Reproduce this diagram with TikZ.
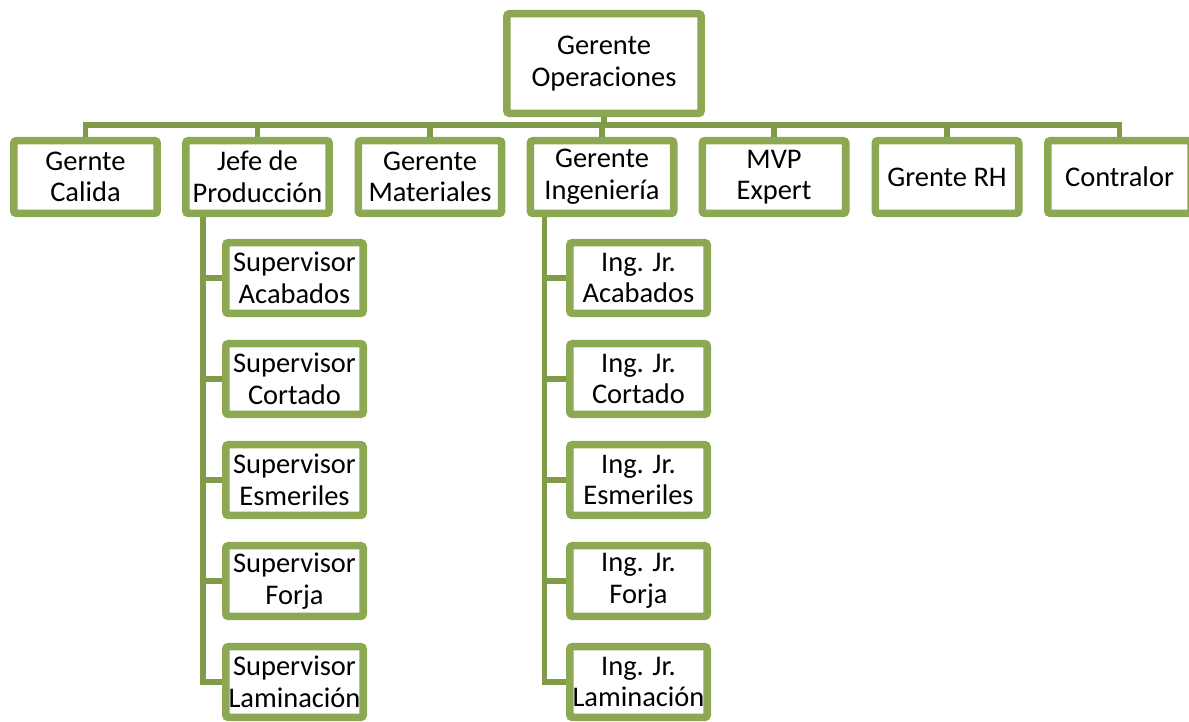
\documentclass[tikz,border=0pt]{standalone}
\usepackage{fontspec}
\setmainfont{Carlito}
\usetikzlibrary{calc,shadows,backgrounds}

\definecolor{olivebox}{RGB}{140,168,82}
\definecolor{olivelink}{RGB}{128,155,74}

\begin{document}
\begin{tikzpicture}[x=0.02cm,y=-0.02cm,
		orgbox/.style={draw=olivebox,line width=4.3pt,fill=white,rounded corners=1.5pt,
			align=center,inner sep=0pt,font=\fontsize{16.2}{18}\selectfont,
			drop shadow={shadow xshift=0.6pt,shadow yshift=-2pt,opacity=0.25,fill=black!60}},
		topbox/.style={orgbox,minimum width=195*0.5669pt,minimum height=100*0.5669pt},
		headbox/.style={orgbox,minimum width=144*0.5669pt,minimum height=73*0.5669pt},
		subbox/.style={orgbox,minimum width=138*0.5669pt,minimum height=71*0.5669pt},
		link/.style={draw=olivelink,line width=2.9pt}]
		\useasboundingbox (0,0) rectangle (1189,721);
		\coordinate (bus) at (604,125);
		\node [topbox] (oper) at (604,63.5) {Gerente\\Operaciones};
		\node [headbox] (cal) at (85.5,177) {Gernte\\Calida};
		\node [headbox] (prod) at (257.5,177) {Jefe de\\Producción};
		\node [headbox] (mat) at (430,177) {Gerente\\Materiales};
		\node [headbox] (ing) at (602,177) {Gerente\\Ingeniería};
		\node [headbox] (mvp) at (774,177) {MVP\\Expert};
		\node [headbox] (rh) at (947,177) {Grente RH};
		\node [headbox] (contr) at (1119.5,177) {Contralor};
		% supervisores
		\node [subbox] (sacab) at (294.5,278) {Supervisor\\Acabados};
		\node [subbox] (scort) at (294.5,379) {Supervisor\\Cortado};
		\node [subbox] (sesme) at (294.5,480) {Supervisor\\Esmeriles};
		\node [subbox] (sforj) at (294.5,581) {Supervisor\\ Forja};
		\node [subbox] (slami) at (294.5,682) {Supervisor\\Laminación};
		% ingenieros
		\node [subbox] (iacab) at (638.5,278) {Ing. Jr.\\Acabados};
		\node [subbox] (icort) at (638.5,379) {Ing. Jr.\\Cortado};
		\node [subbox] (iesme) at (638.5,480) {Ing. Jr.\\Esmeriles};
		\node [subbox] (iforj) at (638.5,581) {Ing. Jr.\\Forja};
		\node [subbox] (ilami) at (638.5,682) {Ing. Jr.\\Laminación};
		% connectors go behind the boxes
		\begin{pgfonlayer}{background}
		\draw [link] (oper.south) -- (bus);
		\draw [link] (cal.north) |- (bus);
		\draw [link] (prod.north) |- (bus);
		\draw [link] (mat.north) |- (bus);
		\draw [link] (ing.north) |- (bus);
		\draw [link] (mvp.north) |- (bus);
		\draw [link] (rh.north) |- (bus);
		\draw [link] (contr.north) |- (bus);
		\draw [link] ($(prod.south west)+(21,0)$) |- (sacab.west);
		\draw [link] ($(prod.south west)+(21,0)$) |- (scort.west);
		\draw [link] ($(prod.south west)+(21,0)$) |- (sesme.west);
		\draw [link] ($(prod.south west)+(21,0)$) |- (sforj.west);
		\draw [link] ($(prod.south west)+(21,0)$) |- (slami.west);
		\draw [link] ($(ing.south west)+(18,0)$) |- (iacab.west);
		\draw [link] ($(ing.south west)+(18,0)$) |- (icort.west);
		\draw [link] ($(ing.south west)+(18,0)$) |- (iesme.west);
		\draw [link] ($(ing.south west)+(18,0)$) |- (iforj.west);
		\draw [link] ($(ing.south west)+(18,0)$) |- (ilami.west);
		\end{pgfonlayer}
\end{tikzpicture}
\end{document}
